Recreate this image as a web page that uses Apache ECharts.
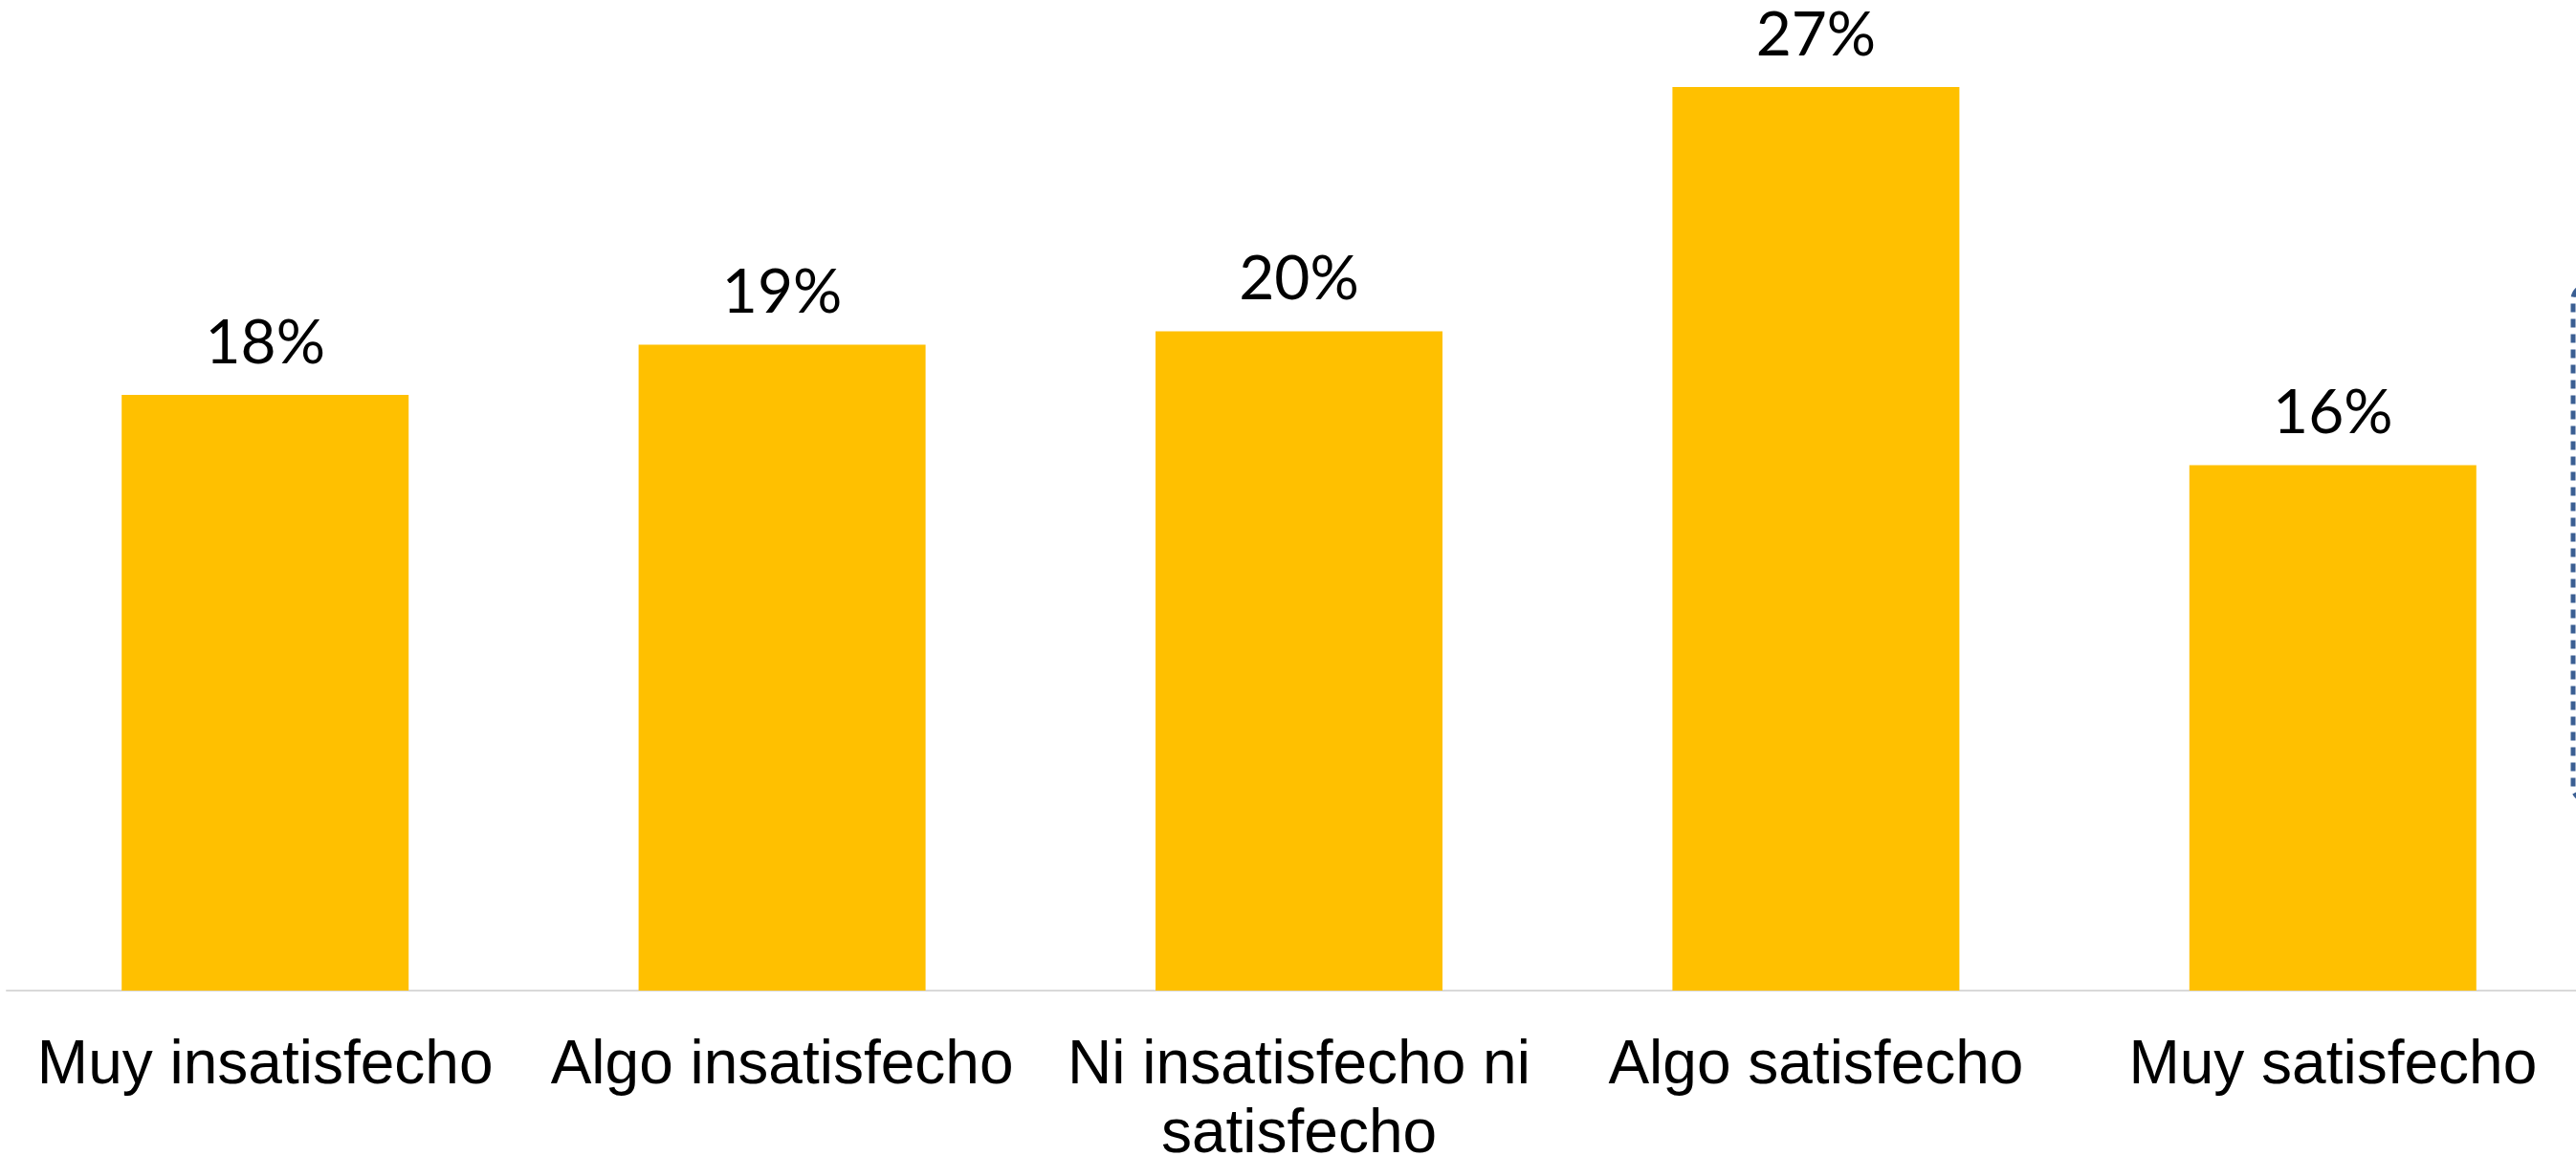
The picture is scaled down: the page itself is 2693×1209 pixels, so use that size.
<!DOCTYPE html>
<html>
<head>
<meta charset="utf-8">
<script src="https://cdn.jsdelivr.net/npm/echarts@6/dist/echarts.min.js"></script>
<style>
  html, body { margin: 0; padding: 0; background: #fff; }
  #chart { width: 2693px; height: 1209px; }
</style>
</head>
<body>
<div id="chart"></div>
<script>
  // satisfaction levels
  let categories = ['Muy insatisfecho', 'Algo insatisfecho', 'Ni insatisfecho ni\nsatisfecho', 'Algo satisfecho', 'Muy satisfecho']
  // share of respondents (%)
  let values = [17.8, 19.3, 19.7, 27.0, 15.7]

  let chart = echarts.init(document.getElementById('chart'))
  chart.setOption({
    animation: false,
    grid: {
      left: 7,
      width: 2702,
      top: 56,
      bottom: 173,
      outerBoundsMode: 'none',
      containLabel: false
    },
    xAxis: {
      type: 'category',
      data: categories,
      axisLine: { show: true, lineStyle: { color: '#D9D9D9', width: 2 } },
      axisTick: { show: false },
      axisLabel: {
        interval: 0,
        margin: 43,
        color: '#000',
        fontFamily: 'Liberation Sans',
        fontSize: 64,
        lineHeight: 72
      }
    },
    yAxis: {
      type: 'value',
      min: 0,
      max: 28,
      show: false,
      splitLine: { show: false }
    },
    series: [
      {
        type: 'bar',
        data: values,
        barWidth: 300,
        itemStyle: { color: '#FFC000' },
        label: {
          show: true,
          position: 'top',
          distance: 22,
          color: '#000',
          fontFamily: 'Lato',
          fontSize: 64,
          formatter: p => Math.round(p.value) + '%'
        }
      }
    ],
    graphic: [
      {
        type: 'rect',
        shape: { x: 2690, y: 299, width: 60, height: 538, r: 14 },
        style: { fill: 'none', stroke: '#3B5F93', lineWidth: 5, lineDash: [9, 7] }
      }
    ]
  })
</script>
</body>
</html>
